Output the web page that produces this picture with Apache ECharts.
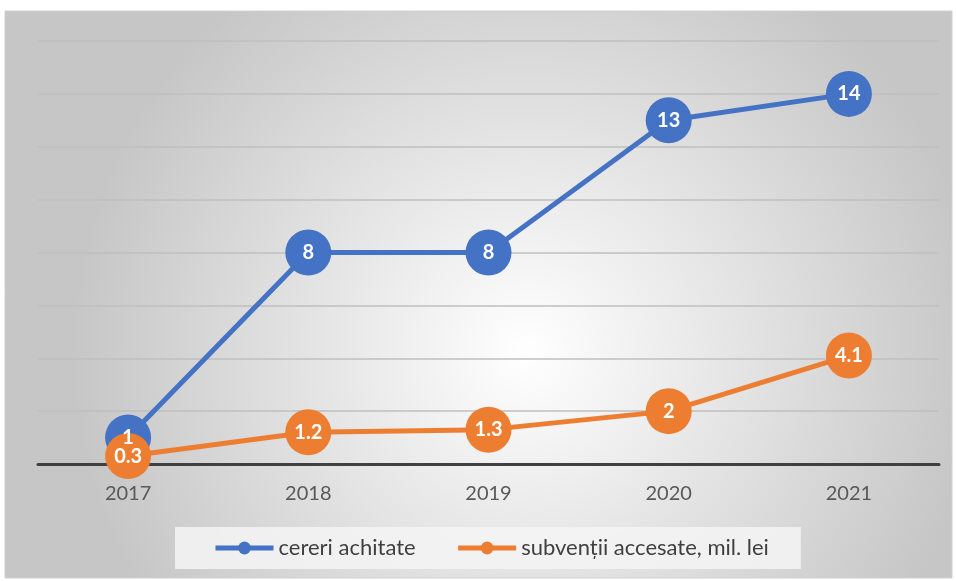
<!DOCTYPE html>
<html>
<head>
<meta charset="utf-8">
<script src="https://cdn.jsdelivr.net/npm/echarts@6/dist/echarts.min.js"></script>
<style>
  html, body { margin: 0; padding: 0; background: #fff; }
  #chart { width: 956px; height: 581px; }
</style>
</head>
<body>
<div id="chart"></div>
<script>
// date
const years = ["2017", "2018", "2019", "2020", "2021"];
const cereriAchitate = [1, 8, 8, 13, 14];
const subventiiAccesate = [0.3, 1.2, 1.3, 2, 4.1];
const seriesNames = ["cereri achitate", "subvenții accesate, mil. lei"];

const font = "Lato, 'Open Sans', sans-serif";
const chart = echarts.init(document.getElementById("chart"));

const lineSeries = (name, data, color) => ({
  name: name,
  type: "line",
  data: data,
  symbol: "circle",
  symbolSize: 46,
  lineStyle: { width: 5, color: color },
  itemStyle: { color: color },
  label: {
    show: true,
    position: "inside",
    color: "#fff",
    fontWeight: "bold",
    fontSize: 20,
    fontFamily: font,
  },
  emphasis: { disabled: true },
});

chart.setOption({
  animation: false,
  backgroundColor: "#fff",
  graphic: [
    {
      type: "rect",
      z: -10,
      shape: { x: 5, y: 11, width: 947, height: 567 },
      style: {
        fill: new echarts.graphic.RadialGradient(0.55, 0.6, 0.8, [
          { offset: 0, color: "#ffffff" },
          { offset: 1, color: "#c6c6c6" },
        ]),
        stroke: "#d0d0d0",
        lineWidth: 1,
      },
    },
  ],
  grid: { left: 38, right: 17, top: 41, bottom: 117 },
  legend: {
    left: 175,
    top: 527,
    padding: [10, 32, 10, 38],
    itemGap: 40,
    itemWidth: 58,
    itemHeight: 16,
    lineStyle: { width: 5 },
    backgroundColor: "rgba(245,245,245,0.85)",
    textStyle: { color: "#404040", fontSize: 22, fontFamily: font },
    data: seriesNames,
  },
  xAxis: {
    type: "category",
    data: years,
    axisLine: { lineStyle: { color: "#404040", width: 3 } },
    axisTick: { show: false },
    axisLabel: { color: "#595959", fontSize: 20, fontFamily: font, margin: 20 },
  },
  yAxis: {
    type: "value",
    min: 0,
    max: 16,
    interval: 2,
    axisLabel: { show: false },
    axisLine: { show: false },
    axisTick: { show: false },
    splitLine: { lineStyle: { color: "#bfbfbf", width: 1.5 } },
  },
  series: [
    lineSeries(seriesNames[0], cereriAchitate, "#4472C4"),
    lineSeries(seriesNames[1], subventiiAccesate, "#ED7D31"),
  ],
});
</script>
</body>
</html>
